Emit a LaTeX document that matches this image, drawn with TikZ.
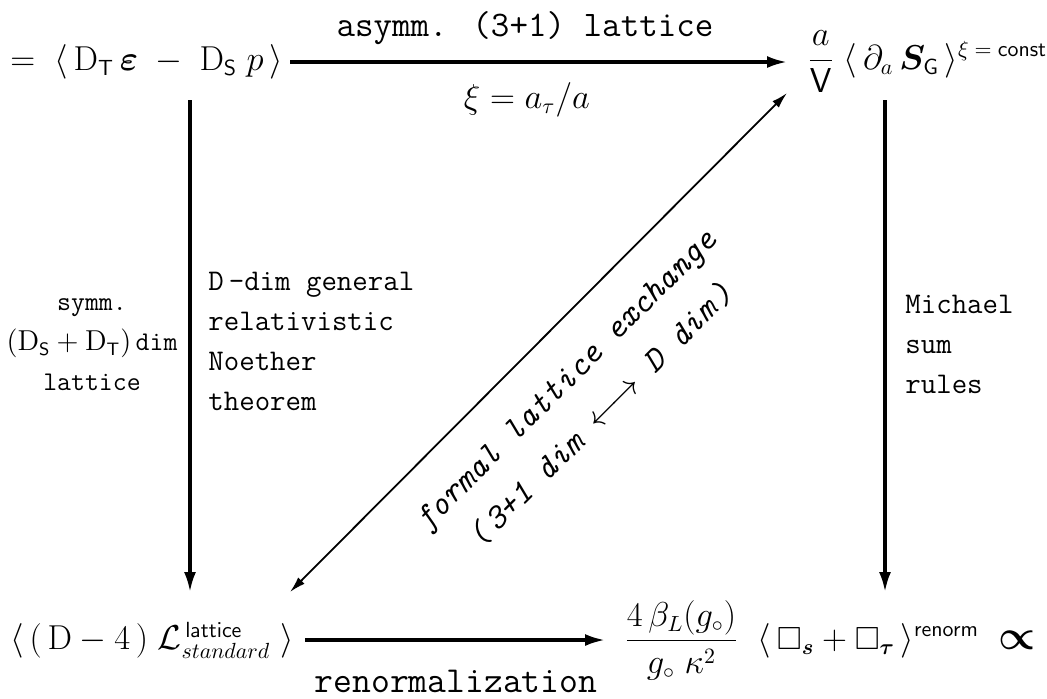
\documentclass[tikz,border=0pt]{standalone}
\usepackage{amsmath,amssymb,bm}
\usetikzlibrary{arrows.meta}
\begin{document}
\begin{tikzpicture}[x=0.5pt,y=-0.5pt,
  arr/.style={line width=1.6pt,-{Latex[length=10pt,width=6pt]}},
  darr/.style={line width=0.9pt,{Latex[length=8pt,width=4.5pt]}-{Latex[length=8pt,width=4.5pt]}},
  mathnode/.style={inner sep=0pt,font=\fontsize{16}{18}\selectfont},
  ttlab/.style={inner sep=0pt,font=\fontsize{15}{19}\selectfont\ttfamily,align=left},
  ttbig/.style={inner sep=0pt,font=\fontsize{18}{22}\selectfont\ttfamily},
  diaglab/.style={inner sep=0pt,font=\fontsize{17}{21}\selectfont\ttfamily\itshape,align=center,rotate=45}
]
\useasboundingbox (0,0) rectangle (1047,698);
% corner nodes
\node[mathnode,anchor=west] (tl) at (10,62) {$=\ \langle\, \mathrm{D}_{\mathsf{T}}\,\bm{\varepsilon}\;-\;\mathrm{D}_{\mathsf{S}}\;p\,\rangle$};
\node[mathnode,anchor=west] (tr) at (807,62) {$\dfrac{a}{\mathsf{V}}\ \langle\,\partial_a\,\bm{S}_{\mathsf{G}}\,\rangle^{\xi\;=\;\mathsf{const}}$};
\node[mathnode,anchor=west] (bl) at (10,640) {$\langle\,(\,\mathrm{D}-4\,)\ \mathcal{L}^{\,\mathsf{lattice}}_{standard}\ \rangle$};
\node[mathnode,anchor=west] (br) at (624,640) {$\dfrac{4\,\beta_L(g_\circ)}{g_\circ\ \kappa^2}\ \ \langle\,\square_{\bm{s}}+\square_{\bm{\tau}}\,\rangle^{\mathsf{renorm}}\ \ \mbox{\fontsize{21}{22}\selectfont$\bm{\propto}$}$};
% arrow end points
\coordinate (t1) at (290,62);
\coordinate (t2) at (787,62);
\coordinate (l1) at (190,100);
\coordinate (l2) at (190,592);
\coordinate (r1) at (885,100);
\coordinate (r2) at (885,592);
\coordinate (b1) at (305,640);
\coordinate (b2) at (605,640);
\coordinate (d1) at (290,592);
\coordinate (d2) at (787,93);
\draw[arr] (t1) -- (t2);
\draw[arr] (l1) -- (l2);
\draw[arr] (r1) -- (r2);
\draw[arr] (b1) -- (b2);
\draw[darr] (d1) -- (d2);
% labels
\node[ttbig] (lt) at (525,28) {asymm. (3+1) lattice};
\node[mathnode] (lxi) at (527,100) {$\xi = a_{\tau}/a$};
\node[inner sep=0pt,font=\fontsize{18.3}{22}\selectfont\ttfamily,anchor=base] (lb) at (456,692) {renormalization};
\node[inner sep=0pt,font=\fontsize{13.5}{19}\selectfont,align=center] (ll) at (92,345) {\ttfamily symm.\\[1pt] $(\mathrm{D}_{\mathsf{S}}+\mathrm{D}_{\mathsf{T}})$\,\ttfamily dim\\[1pt] \ttfamily lattice};
\node[ttlab,anchor=north west] (lr) at (208,272) {D\,-dim general\\[1pt] relativistic\\[1pt] Noether\\[1pt] theorem};
\node[ttlab,anchor=north west] (rr) at (905,295) {Michael\\[1pt] sum\\[1pt] rules};
\node[diaglab] (dl) at (584,398) {formal lattice exchange\\[4pt] (\,3+1 dim $\longleftrightarrow$ D dim\,)};
\end{tikzpicture}
\end{document}
